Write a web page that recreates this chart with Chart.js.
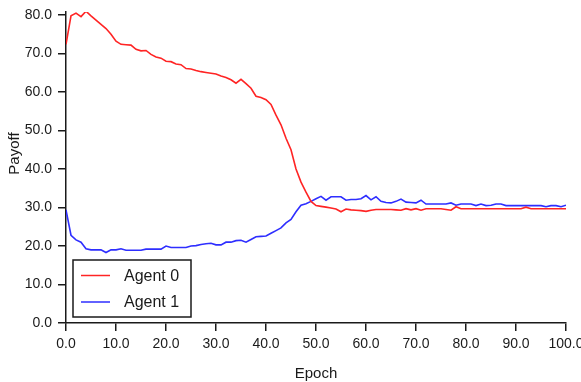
<!DOCTYPE html>
<html>
<head>
<meta charset="utf-8">
<script src="https://cdn.jsdelivr.net/npm/chart.js@4.4.1/dist/chart.umd.min.js"></script>
<style>
  html, body { margin: 0; padding: 0; background: #ffffff; }
  #wrap { width: 581px; height: 382px; position: relative; }
</style>
</head>
<body>
<div id="wrap"><canvas id="payoffChart" width="581" height="382"></canvas></div>
<script>
const epochs = Array.from({ length: 101 }, (_, i) => i);
const seriesLabels = ['Agent 0', 'Agent 1'];
const agent0 = [
  72.4, 79.8, 80.5, 79.6, 81.0, 79.8, 78.7, 77.6, 76.5, 75.0,
  73.2, 72.4, 72.3, 72.2, 71.1, 70.7, 70.8, 69.8, 69.1, 68.8,
  68.0, 67.9, 67.3, 67.1, 66.1, 66.0, 65.6, 65.3, 65.1, 64.9,
  64.7, 64.2, 63.8, 63.2, 62.3, 63.3, 62.2, 61.0, 58.9, 58.6,
  58.0, 56.8, 54.0, 51.5, 48.0, 45.0, 40.0, 36.6, 34.0, 31.6,
  30.5, 30.3, 30.1, 29.9, 29.6, 28.9, 29.6, 29.4, 29.3, 29.2,
  29.0, 29.3, 29.5, 29.5, 29.5, 29.5, 29.4, 29.3, 29.7, 29.4,
  29.7, 29.3, 29.7, 29.7, 29.7, 29.7, 29.5, 29.3, 30.2, 29.7,
  29.7, 29.7, 29.7, 29.7, 29.7, 29.7, 29.7, 29.7, 29.7, 29.7,
  29.7, 29.7, 30.1, 29.7, 29.7, 29.7, 29.7, 29.7, 29.7, 29.7,
  29.7
];
const agent1 = [
  29.4, 22.8, 21.6, 21.0, 19.3, 19.0, 19.0, 19.0, 18.3, 19.0,
  19.0, 19.3, 18.9, 18.9, 18.9, 18.9, 19.2, 19.2, 19.2, 19.2,
  20.0, 19.6, 19.6, 19.6, 19.6, 20.0, 20.1, 20.4, 20.6, 20.7,
  20.3, 20.3, 21.0, 21.0, 21.4, 21.5, 21.0, 21.7, 22.4, 22.5,
  22.6, 23.3, 24.0, 24.7, 26.0, 26.9, 28.9, 30.6, 31.0, 31.6,
  32.3, 32.9, 31.9, 32.8, 32.8, 32.8, 31.9, 32.1, 32.1, 32.3,
  33.1, 32.0, 32.8, 31.6, 31.3, 31.2, 31.6, 32.2, 31.4, 31.3,
  31.2, 31.9, 30.9, 30.9, 30.9, 30.9, 30.9, 31.2, 30.6, 30.9,
  30.9, 30.9, 30.5, 30.9, 30.5, 30.6, 30.9, 30.9, 30.5, 30.5,
  30.5, 30.5, 30.5, 30.5, 30.5, 30.5, 30.2, 30.5, 30.5, 30.2,
  30.6
];
const seriesColors = ['#ff2424', '#2e2eff'];
const xTicks = { min: 0, max: 100, step: 10 };
const yTicks = { min: 0, max: 80.8, step: 10 };
const xTitle = 'Epoch';
const yTitle = 'Payoff';

const FONT = 'Liberation Sans, Arial, sans-serif';
const INK = '#1a1a1a';

// legend box in the lower left of the plot + the rotated y title
const boxLegend = {
  id: 'boxLegend',
  afterDraw(chart) {
    const ctx = chart.ctx;
    const area = chart.chartArea;
    const x = area.left + 7, y = area.bottom - 63, w = 118, h = 57;
    ctx.save();
    ctx.fillStyle = '#ffffff';
    ctx.fillRect(x, y, w, h);
    ctx.strokeStyle = INK;
    ctx.lineWidth = 1.5;
    ctx.strokeRect(x, y, w, h);
    ctx.font = `16px ${FONT}`;
    ctx.textBaseline = 'middle';
    chart.data.datasets.forEach((ds, i) => {
      const rowY = y + 15.5 + i * 26.5;
      ctx.strokeStyle = ds.borderColor;
      ctx.lineWidth = 1.5;
      ctx.beginPath();
      ctx.moveTo(x + 8, rowY);
      ctx.lineTo(x + 37, rowY);
      ctx.stroke();
      ctx.fillStyle = INK;
      ctx.fillText(ds.label, x + 51, rowY + 1);
    });

    // y title sits a little above the middle of the axis, as in the source
    ctx.translate(15, area.top + (area.bottom - area.top) * 0.455);
    ctx.rotate(-Math.PI / 2);
    ctx.font = `15px ${FONT}`;
    ctx.textAlign = 'center';
    ctx.fillText(yTitle, 0, 0);
    ctx.restore();
  }
};

function axisOptions(range, titleText, size) {
  return {
    type: 'linear',
    min: range.min,
    max: range.max,
    grid: { display: true, drawOnChartArea: false, drawTicks: true, tickLength: 8, color: INK, lineWidth: 1.5 },
    border: { display: true, color: INK, width: 1.5 },
    ticks: {
      stepSize: range.step,
      includeBounds: false,
      color: INK,
      font: { family: FONT, size: 14 },
      callback: v => Number(v).toFixed(1)
    },
    title: { display: !!titleText, text: titleText, color: INK, font: { family: FONT, size: 15 } },
    afterFit: scale => {
      if (scale.isHorizontal()) scale.height = size;
      else scale.width = size;
      scale.paddingLeft = 0;
      scale.paddingRight = 0;
      scale.paddingTop = 0;
      scale.paddingBottom = 0;
    }
  };
}

function setupChart() {
  const canvas = document.getElementById('payoffChart');
  const makeSet = (label, values, color) => ({
    label,
    data: values.map((v, i) => ({ x: epochs[i], y: v })),
    borderColor: color,
    backgroundColor: color,
    borderWidth: 1.6,
    pointRadius: 0,
    tension: 0,
    fill: false
  });
  const xAxis = axisOptions(xTicks, xTitle, 59);
  xAxis.ticks.padding = 5;
  xAxis.title.padding = { top: 0, bottom: -1 };
  const yAxis = axisOptions(yTicks, '', 66);
  yAxis.ticks.padding = 6;

  return new Chart(canvas.getContext('2d'), {
    type: 'line',
    data: {
      datasets: [
        makeSet(seriesLabels[0], agent0, seriesColors[0]),
        makeSet(seriesLabels[1], agent1, seriesColors[1])
      ]
    },
    options: {
      responsive: false,
      animation: false,
      devicePixelRatio: 1,
      layout: { padding: { top: 12, right: 15, left: 0, bottom: 0 } },
      plugins: { legend: { display: false }, tooltip: { enabled: false } },
      scales: { x: xAxis, y: yAxis }
    },
    plugins: [boxLegend]
  });
}

setupChart();
</script>
</body>
</html>
